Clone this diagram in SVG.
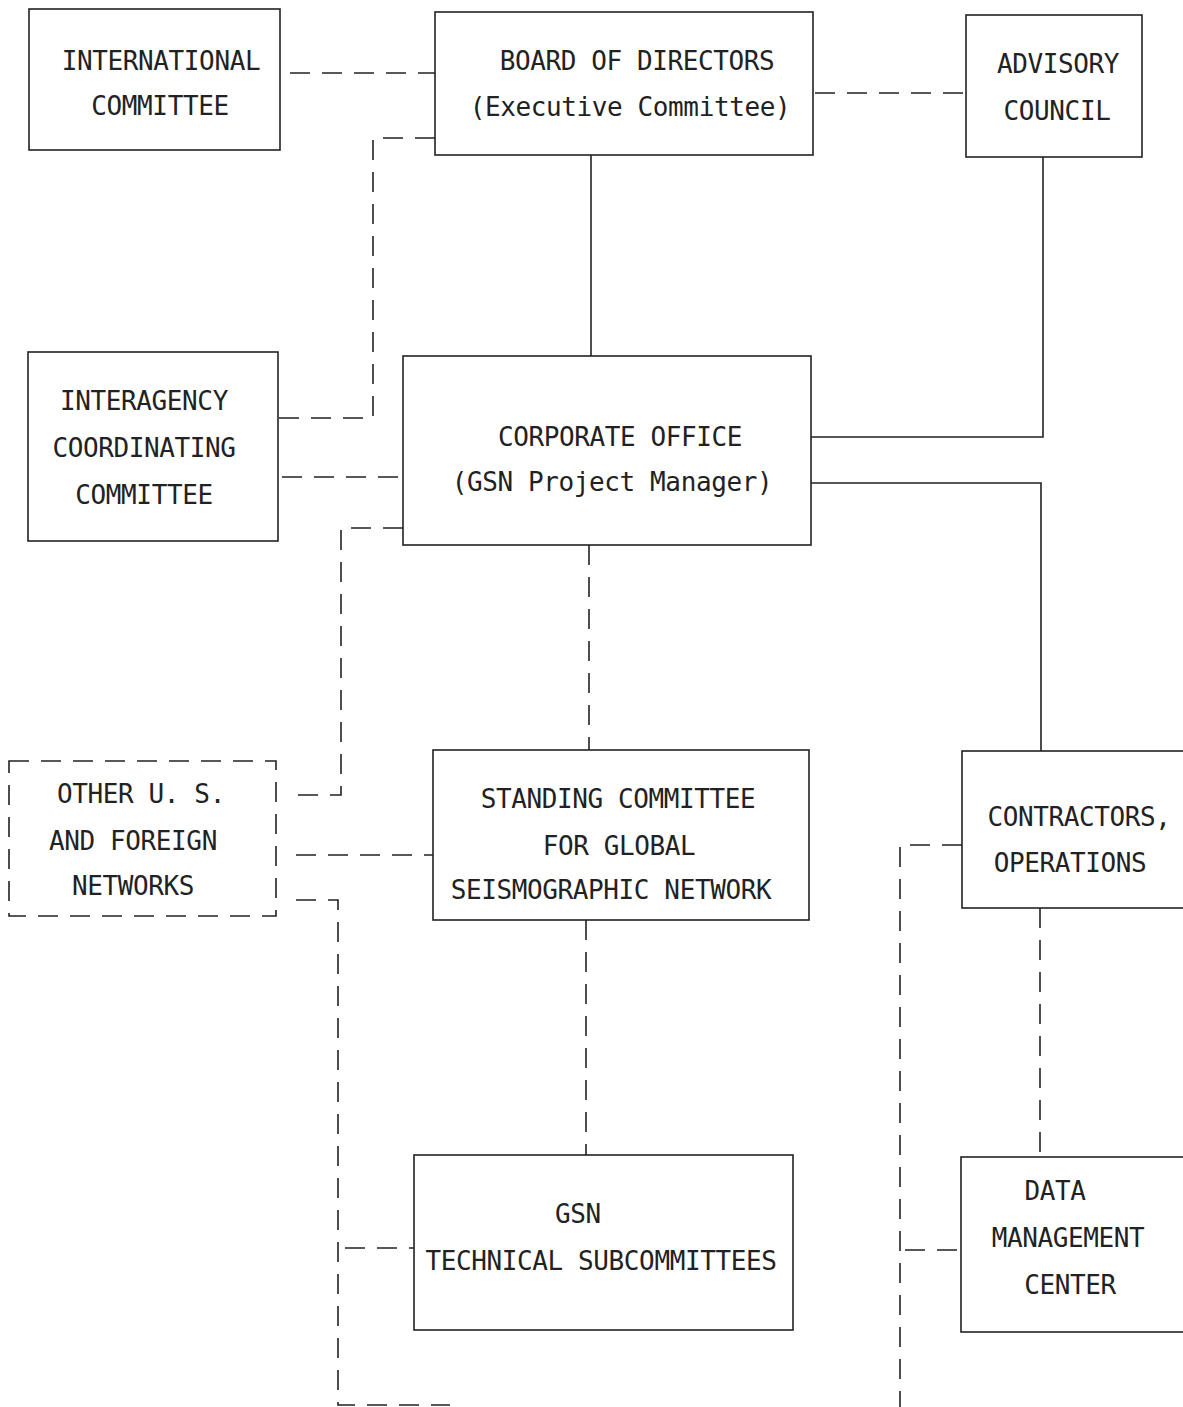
<svg xmlns="http://www.w3.org/2000/svg" width="1183" height="1407" viewBox="0 0 1183 1407">
<style>
.box{fill:none;stroke:#222;stroke-width:1.6}
.dbox{fill:none;stroke:#222;stroke-width:1.6;stroke-dasharray:20 12}
.solid{fill:none;stroke:#222;stroke-width:1.6}
.dash{fill:none;stroke:#222;stroke-width:1.6;stroke-dasharray:20 12}
text{font-family:"DejaVu Sans Mono","Liberation Mono",monospace;font-size:26px;letter-spacing:-0.4px;fill:#222;text-anchor:middle}
</style>
<rect width="1183" height="1407" fill="#fff"/>
<g id="connectors">
<line class="dash" x1="290" y1="73" x2="435" y2="73"/>
<line class="dash" x1="815" y1="93" x2="966" y2="93"/>
<line class="solid" x1="591" y1="155" x2="591" y2="356"/>
<polyline class="solid" points="1043,157 1043,437 811,437"/>
<polyline class="dash" points="435,138 373,138 373,418 278,418"/>
<line class="dash" x1="282" y1="477" x2="403" y2="477"/>
<polyline class="dash" points="403,528 341,528 341,795 294,795"/>
<line class="dash" x1="296" y1="855" x2="433" y2="855"/>
<polyline class="dash" points="296,900 338,900 338,1405 450,1405"/>
<line class="dash" x1="345" y1="1248" x2="414" y2="1248"/>
<line class="dash" x1="589" y1="545" x2="589" y2="750"/>
<polyline class="solid" points="811,483 1041,483 1041,751"/>
<line class="dash" x1="586" y1="920" x2="586" y2="1155"/>
<line class="dash" x1="1040" y1="908" x2="1040" y2="1157"/>
<polyline class="dash" points="962,845 900,845 900,1407"/>
<line class="dash" x1="905" y1="1250" x2="961" y2="1250"/>
</g>
<g id="international">
<rect class="box" x="29" y="9" width="251" height="141"/>
<text x="161" y="70">INTERNATIONAL</text>
<text x="160" y="115">COMMITTEE</text>
</g>
<g id="board">
<rect class="box" x="435" y="12" width="378" height="143"/>
<text x="637" y="70">BOARD OF DIRECTORS</text>
<text x="630" y="116">(Executive Committee)</text>
</g>
<g id="advisory">
<rect class="box" x="966" y="15" width="176" height="142"/>
<text x="1058" y="73">ADVISORY</text>
<text x="1057" y="120">COUNCIL</text>
</g>
<g id="interagency">
<rect class="box" x="28" y="352" width="250" height="189"/>
<text x="144" y="410">INTERAGENCY</text>
<text x="144" y="457">COORDINATING</text>
<text x="144" y="504">COMMITTEE</text>
</g>
<g id="corporate">
<rect class="box" x="403" y="356" width="408" height="189"/>
<text x="620" y="446">CORPORATE OFFICE</text>
<text x="612" y="491">(GSN Project Manager)</text>
</g>
<g id="other">
<rect class="dbox" x="9" y="761" width="267" height="155"/>
<text x="141" y="803">OTHER U. S.</text>
<text x="133" y="850">AND FOREIGN</text>
<text x="133" y="895">NETWORKS</text>
</g>
<g id="standing">
<rect class="box" x="433" y="750" width="376" height="170"/>
<text x="618" y="808">STANDING COMMITTEE</text>
<text x="619" y="855">FOR GLOBAL</text>
<text x="611" y="899">SEISMOGRAPHIC NETWORK</text>
</g>
<g id="contractors">
<rect class="box" x="962" y="751" width="240" height="157"/>
<text x="1079" y="826">CONTRACTORS,</text>
<text x="1070" y="872">OPERATIONS</text>
</g>
<g id="gsn">
<rect class="box" x="414" y="1155" width="379" height="175"/>
<text x="578" y="1223">GSN</text>
<text x="601" y="1270">TECHNICAL SUBCOMMITTEES</text>
</g>
<g id="data">
<rect class="box" x="961" y="1157" width="240" height="175"/>
<text x="1055" y="1200">DATA</text>
<text x="1068" y="1247">MANAGEMENT</text>
<text x="1070" y="1294">CENTER</text>
</g>
</svg>
